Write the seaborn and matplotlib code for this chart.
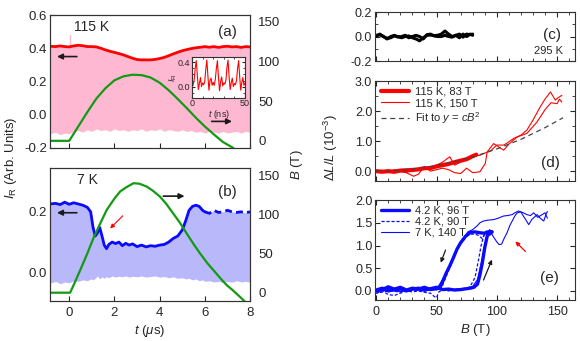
import numpy as np
import pandas as pd
import matplotlib
matplotlib.use("Agg")
import matplotlib.pyplot as plt
from matplotlib.ticker import MultipleLocator
import seaborn as sns

sns.set_theme(style="ticks")
plt.rcParams['font.family'] = ['Liberation Sans', 'DejaVu Sans']
plt.rcParams['mathtext.fontset'] = 'custom'
plt.rcParams['mathtext.rm'] = 'Liberation Sans'
plt.rcParams['mathtext.it'] = 'Liberation Sans:italic'
plt.rcParams['mathtext.bf'] = 'Liberation Sans:bold'

# ---------------- data: panel (a) 115 K ----------------
t_a = [-0.85, -0.6, -0.4, -0.2, 0.0, 0.2, 0.4, 0.6, 0.8, 1.0, 1.2, 1.4, 1.6, 1.8, 2.0,
       2.2, 2.4, 2.6, 2.8, 3.0, 3.2, 3.4, 3.6, 3.8, 4.0, 4.2, 4.4, 4.6, 4.8, 5.0,
       5.2, 5.4, 5.6, 5.8, 6.0, 6.2, 6.4, 6.6, 6.8, 7.0, 7.2, 7.4, 7.6, 7.8, 8.0]
IR_a = [0.412, 0.41, 0.414, 0.41, 0.408, 0.414, 0.418, 0.415, 0.41, 0.41, 0.408, 0.40,
        0.39, 0.382, 0.375, 0.368, 0.36, 0.35, 0.34, 0.332, 0.33, 0.33, 0.33, 0.333,
        0.338, 0.345, 0.355, 0.366, 0.376, 0.385, 0.392, 0.398, 0.403, 0.406, 0.41,
        0.406, 0.41, 0.405, 0.41, 0.412, 0.408, 0.41, 0.405, 0.41, 0.408]
IR_a_low = [-0.115, -0.105, -0.12, -0.11, -0.115, -0.10, -0.095, -0.105, -0.09, -0.10,
            -0.085, -0.095, -0.09, -0.10, -0.085, -0.095, -0.09, -0.10, -0.09, -0.095,
            -0.085, -0.10, -0.09, -0.095, -0.085, -0.10, -0.09, -0.095, -0.10, -0.09,
            -0.10, -0.095, -0.105, -0.10, -0.11, -0.10, -0.105, -0.11, -0.10, -0.11,
            -0.105, -0.10, -0.11, -0.10, -0.105]
glitch_t = [0.05, 0.05]
glitch_I = [0.41, 0.48]
tB_a = [-0.85, 0.0, 0.4, 0.8, 1.2, 1.6, 2.0, 2.4, 2.8, 3.2, 3.6, 4.0, 4.4, 4.8, 5.2,
        5.6, 6.0, 6.4, 6.8, 7.2, 7.35]
B_a = [0, 0, 18, 36, 53, 66, 76, 81, 83, 82.5, 79.5, 73, 63.5, 52.5, 41, 29, 18, 8,
       -1.5, -8, -11]

# inset: reflectivity vs time (ns)
t_ns = list(range(0, 51))
IR_ns = [0.05, 0.02, 0.10, 0.30, 0.43, 0.20, -0.05, 0.05, 0.15, 0.00,
         0.06, 0.03, 0.08, 0.28, 0.44, 0.18, -0.06, 0.10, 0.14, 0.02,
         0.07, 0.02, 0.12, 0.30, 0.43, 0.15, -0.07, 0.08, 0.16, 0.01,
         0.06, 0.04, 0.10, 0.32, 0.44, 0.17, -0.05, 0.06, 0.14, 0.00,
         0.05, 0.03, 0.10, 0.30, 0.43, 0.16, -0.06, 0.07, 0.15, 0.02, 0.06]

# ---------------- data: panel (b) 7 K ----------------
t_b = [-0.85, -0.6, -0.4, -0.2, 0.0, 0.2, 0.4, 0.6, 0.8, 0.95, 1.05, 1.15, 1.25, 1.35,
       1.45, 1.55, 1.65, 1.75, 1.9, 2.05, 2.2, 2.35, 2.5, 2.65, 2.8, 3.0, 3.2, 3.4,
       3.6, 3.8, 4.0, 4.2, 4.4, 4.6, 4.8, 5.0, 5.15, 5.3, 5.45, 5.6, 5.75, 5.9, 6.0]
IR_b = [0.226, 0.228, 0.224, 0.232, 0.225, 0.23, 0.226, 0.222, 0.215, 0.20, 0.15,
        0.12, 0.13, 0.148, 0.12, 0.09, 0.078, 0.092, 0.10, 0.095, 0.10, 0.088, 0.096,
        0.09, 0.094, 0.085, 0.09, 0.084, 0.088, 0.086, 0.09, 0.092, 0.10, 0.112, 0.12,
        0.14, 0.17, 0.205, 0.218, 0.222, 0.218, 0.205, 0.20]
t_b_dash = [6.0, 6.2, 6.4, 6.6, 6.8, 7.0, 7.2, 7.4, 7.6, 7.8, 8.0]
IR_b_dash = [0.20, 0.195, 0.205, 0.198, 0.20, 0.205, 0.20, 0.198, 0.20, 0.197, 0.20]
IR_b_low = [-0.036, -0.03, -0.038, -0.032, -0.035, -0.028, -0.03, -0.025, -0.028, -0.022,
            -0.025, -0.02, -0.012, -0.022, -0.015, -0.02, -0.014, -0.018, -0.012, -0.016,
            -0.013, -0.015, -0.012, -0.016, -0.013, -0.015, -0.012, -0.016, -0.014, -0.012,
            -0.016, -0.014, -0.018, -0.015, -0.02, -0.018, -0.022, -0.02, -0.025, -0.022,
            -0.028, -0.025, -0.03,
            -0.028, -0.032, -0.03, -0.034, -0.03, -0.033, -0.028, -0.032, -0.03, -0.033]
tB_b = [-0.85, 0.04, 0.2, 0.49, 0.8, 1.07, 1.4, 1.66, 2.0, 2.25, 2.5, 2.84, 3.1, 3.43,
        3.7, 4.01, 4.3, 4.6, 4.9, 5.19, 5.5, 5.78, 6.1, 6.37, 6.7, 6.96, 7.2, 7.54, 7.76]
B_b = [0, 0, 10, 29, 50, 69.5, 90, 105.6, 120, 129, 134, 139.6, 139, 135.3, 130, 122.6,
       113, 101, 89, 75.8, 62, 50.3, 38, 29, 18, 9.8, 4, -5, -11]

# ---------------- data: panel (c) 295 K ----------------
Bc_up = [0, 3, 6, 9, 12, 15, 18, 21, 24, 27, 30, 33, 36, 39, 42, 45, 48, 51, 54, 57,
         60, 63, 66, 69, 72, 75, 78, 80]
dLc_up = [0.01, 0.015, 0.0, -0.015, -0.01, 0.005, 0.0, -0.01, 0.0, 0.005, -0.01, -0.02,
          -0.035, -0.01, 0.01, 0.012, 0.008, 0.01, 0.02, 0.045, 0.02, 0.0, 0.01, 0.02,
          -0.005, 0.02, 0.015, 0.02]
dLc_down = [0.0, 0.02, 0.0, -0.02, 0.0, 0.01, -0.005, 0.0, 0.01, -0.01, 0.0, 0.01, 0.0,
            -0.02, 0.015, 0.02, 0.005, 0.0, 0.0, 0.01, 0.0, -0.005, 0.01, -0.01, 0.02,
            0.0, 0.02, 0.01]

# ---------------- data: panel (d) 115 K ----------------
Bd_83 = [0, 5, 10, 15, 20, 25, 30, 35, 40, 45, 50, 55, 60, 65, 70, 75, 80, 83]
dLd_83 = [0.0, -0.02, 0.0, -0.02, 0.02, 0.03, 0.04, 0.06, 0.10, 0.10, 0.16, 0.20, 0.24,
          0.30, 0.35, 0.40, 0.50, 0.55]
Bd_150_up = [0, 5, 10, 15, 20, 25, 30, 35, 40, 45, 50, 55, 61, 65, 70, 75, 80, 86, 90,
             95, 100, 106, 114, 120, 125, 130, 136, 140, 144.5, 148.6, 151, 154]
dLd_150_up = [0.0, 0.03, -0.02, 0.05, 0.0, -0.05, 0.05, 0.10, 0.12, 0.10, 0.20, 0.30,
              0.48, 0.20, 0.30, 0.42, 0.50, 0.53, 0.60, 0.68, 0.87, 0.87, 1.09, 1.20,
              1.37, 1.70, 2.14, 2.40, 2.64, 2.37, 2.45, 2.53]
Bd_150_down = [154, 152, 150, 145, 140, 138.9, 133.4, 125, 117, 110, 105.7, 100, 97.4,
               92, 90.5, 86, 80, 75, 70, 65, 60, 55, 50, 45, 40, 35, 31, 25, 20, 15,
               10, 5, 0]
dLd_150_down = [2.30, 2.40, 2.25, 2.28, 2.05, 1.98, 1.64, 1.26, 1.14, 0.90, 0.70, 0.85,
                0.92, 0.64, 0.26, -0.02, -0.05, 0.10, -0.08, -0.05, 0.05, 0.10, 0.05,
                0.0, 0.15, -0.10, -0.17, -0.05, 0.0, -0.05, 0.02, 0.0, 0.0]
Bd_fit = [0, 20, 40, 60, 80, 100, 120, 140, 155]
dLd_fit = [0.0, 0.03, 0.12, 0.27, 0.47, 0.74, 1.06, 1.45, 1.78]

# ---------------- data: panel (e) low T ----------------
Be_96_up = [0, 5, 10, 15, 20, 25, 30, 35, 40, 45, 50, 55, 60, 65, 70, 75, 78, 81, 84,
            86, 88, 90, 92, 94, 96]
dLe_96_up = [0.02, 0.06, 0.0, 0.03, 0.05, 0.0, 0.04, 0.06, 0.02, 0.05, 0.08, 0.03, 0.04,
             0.02, 0.03, 0.05, 0.06, 0.08, 0.15, 0.35, 0.62, 0.95, 1.20, 1.31, 1.30]
Be_96_down = [96, 94, 92, 90, 86, 82, 78, 74, 70, 67, 64, 61, 58, 55, 53, 50, 45, 40, 35,
              30, 25, 20, 15, 10, 5, 0]
dLe_96_down = [1.30, 1.25, 1.30, 1.27, 1.28, 1.30, 1.29, 1.20, 1.06, 0.92, 0.73, 0.55,
               0.39, 0.20, 0.08, 0.05, 0.03, 0.08, 0.04, 0.06, 0.02, 0.08, 0.04, 0.09,
               0.03, 0.0]
Be_90_up = [0, 5, 10, 15, 20, 25, 30, 35, 40, 45, 48, 50, 52, 55, 60, 65, 70, 75, 78,
            82, 85, 87, 89, 90]
dLe_90_up = [-0.05, 0.0, -0.08, -0.10, -0.05, 0.0, -0.02, 0.0, -0.03, -0.05, -0.12,
             -0.15, -0.02, 0.02, 0.0, 0.03, 0.05, 0.05, 0.10, 0.30, 0.70, 1.00, 1.20, 1.25]
Be_90_down = [90, 88, 85, 82, 78, 75, 72, 69, 66, 63, 60, 57, 55, 53, 51, 49, 45, 40, 30,
              20, 10, 0]
dLe_90_down = [1.25, 1.15, 1.22, 1.25, 1.25, 1.20, 1.10, 1.00, 0.85, 0.65, 0.45, 0.25,
               0.12, 0.05, 0.02, 0.03, 0.02, 0.0, 0.02, -0.02, 0.0, -0.05]
Be_140_up = [0, 10, 20, 30, 40, 50, 60, 70, 75, 80, 84, 87, 90, 92, 94, 97, 100, 102, 104,
             106, 108.5, 111, 113, 115, 117, 120, 122, 124, 126.5, 129, 131, 133.5, 136,
             139, 141, 142]
dLe_140_up = [0.0, 0.05, 0.0, 0.05, 0.02, 0.05, 0.02, 0.05, 0.06, 0.10, 0.25, 0.60, 1.00,
              1.25, 1.35, 1.20, 1.08, 1.02, 1.03, 1.15, 1.28, 1.45, 1.55, 1.65, 1.72, 1.74,
              1.65, 1.57, 1.46, 1.57, 1.62, 1.68, 1.60, 1.54, 1.70, 1.75]
Be_140_down = [142, 140, 137.6, 134, 130.6, 128, 125, 122, 118, 115, 112.7, 109, 105.7,
               101, 97.4, 93, 89, 86, 83.6, 80, 76, 72, 68, 64, 60, 56, 52, 48, 40, 30,
               20, 10, 0]
dLe_140_down = [1.60, 1.72, 1.68, 1.62, 1.72, 1.66, 1.68, 1.72, 1.76, 1.72, 1.68, 1.66,
                1.65, 1.60, 1.57, 1.56, 1.54, 1.50, 1.43, 1.35, 1.30, 1.15, 0.95, 0.72,
                0.50, 0.30, 0.12, 0.04, 0.0, 0.03, -0.02, 0.02, 0.0]

# ---------------- styling ----------------
RED = "#ff0000"
PINK = "#ffb8d2"
BLUE = "#0a0aff"
LAV = "#b8b8fa"
GREEN = "#139a13"
FS = 9.5

fig = plt.figure(figsize=(5.8, 3.41), dpi=100)

def style_ax(ax, fs=FS, minor=False, allsides=False):
    ax.tick_params(direction="in", length=3.5, width=0.8, labelsize=fs, pad=2,
                   top=allsides, right=allsides)
    if minor:
        ax.tick_params(which="minor", direction="in", length=2, width=0.6,
                       top=allsides, right=allsides)
    for s in ax.spines.values():
        s.set_linewidth(0.8)
        s.set_color("#333333")
    ax.grid(False)

def line(ax, x, y, **kw):
    sns.lineplot(x=x, y=y, ax=ax, sort=False, estimator=None, **kw)

def arrow(ax, tail, head, color="k", lw=1.2, ms=8):
    ax.annotate("", xy=head, xytext=tail,
                arrowprops=dict(arrowstyle="-|>", color=color, lw=lw,
                                mutation_scale=ms, shrinkA=0, shrinkB=0))

# ---------------- panel (a) ----------------
axa = fig.add_axes([0.0862, 0.566, 0.345, 0.390])
axa.fill_between(t_a, IR_a_low, IR_a, color=PINK, lw=0)
line(axa, glitch_t, glitch_I, color=PINK, lw=1.0)
line(axa, t_a, IR_a, color=RED, lw=2.0)
axa.set_xlim(-0.85, 8)
axa.set_ylim(-0.2, 0.6)
axa.set_yticks([-0.2, 0.0, 0.2, 0.4, 0.6])
axa.set_yticklabels(["-0.2", "0.0", "0.2", "0.4", "0.6"])
axa.set_xticks([0, 2, 4, 6, 8])
axa.set_xticklabels([])
axa.set_xlabel("")
style_ax(axa)
axa2 = axa.twinx()
line(axa2, tB_a, B_a, color=GREEN, lw=1.6)
axa2.set_ylim(-9, 158)
axa2.set_yticks([0, 50, 100, 150])
axa2.set_ylabel("")
style_ax(axa2)
axa2.tick_params(pad=6)
axa2.set_xlim(-0.85, 8)
axa.text(0.19, 0.53, "115 K", fontsize=10, ha="left", va="center")
axa.text(7.0, 0.50, "(a)", fontsize=11, ha="center", va="center")
arrow(axa, (0.34, 0.35), (-0.54, 0.35))
arrow(axa, (6.3, -0.04), (7.2, -0.04))

# inset
axi = fig.add_axes([0.331, 0.7126, 0.0914, 0.1202])
axi.set_facecolor("white")
line(axi, t_ns, IR_ns, color=RED, lw=0.8)
axi.set_xlim(0, 50)
axi.set_ylim(-0.19, 0.49)
axi.set_xticks([0, 50])
axi.set_yticks([0.0, 0.4])
axi.set_yticklabels(["0.0", "0.4"])
axi.xaxis.set_minor_locator(MultipleLocator(10))
axi.yaxis.set_minor_locator(MultipleLocator(0.1))
style_ax(axi, fs=6.5, minor=True, allsides=True)
axi.tick_params(length=2, pad=1)
axi.tick_params(which="minor", length=1.2)
axi.set_xlabel("$t$ (ns)", fontsize=6.5, labelpad=0)
axi.set_ylabel("$I_{\\rm R}$", fontsize=6.5, labelpad=-1)

# ---------------- panel (b) ----------------
axb = fig.add_axes([0.0862, 0.1173, 0.345, 0.390])
t_b_all = t_b + t_b_dash[1:]
IR_b_all = IR_b + IR_b_dash[1:]
axb.fill_between(t_b_all, IR_b_low, IR_b_all, color=LAV, lw=0)
line(axb, t_b, IR_b, color=BLUE, lw=2.0)
line(axb, t_b_dash, IR_b_dash, color=BLUE, lw=2.0, dashes=(2.5, 1.5))
axb.set_xlim(-0.85, 8)
axb.set_ylim(-0.095, 0.345)
axb.set_yticks([0.0, 0.2])
axb.set_yticklabels(["0.0", "0.2"])
axb.set_xticks([0, 2, 4, 6, 8])
style_ax(axb)
axb.tick_params(axis="x", pad=4)
axb.set_xlabel("$t$ ($\\mu$s)", fontsize=FS, labelpad=3)
axb2 = axb.twinx()
line(axb2, tB_b, B_b, color=GREEN, lw=1.6)
axb2.set_ylim(-10.6, 159)
axb2.set_yticks([0, 50, 100, 150])
axb2.set_ylabel("")
style_ax(axb2)
axb2.tick_params(pad=6)
axb.text(0.34, 0.305, "7 K", fontsize=10, ha="left", va="center")
axb.text(7.0, 0.266, "(b)", fontsize=11, ha="center", va="center")
arrow(axb, (0.34, 0.197), (-0.54, 0.197))
arrow(axb, (4.16, 0.252), (5.1, 0.252))
arrow(axb, (2.37, 0.187), (1.81, 0.145), color=RED, lw=0.8, ms=6)

fig.text(0.019, 0.537, "$I_{\\rm R}$ (Arb. Units)", rotation=90, fontsize=FS,
         ha="center", va="center")
fig.text(0.512, 0.516, "$B$ (T)", rotation=90, fontsize=FS, ha="center", va="center")

# ---------------- panel (c) ----------------
XL = (-1, 165)
axc = fig.add_axes([0.6466, 0.821, 0.345, 0.1437])
line(axc, Bc_up, dLc_up, color="black", lw=2.2)
line(axc, Bc_up, dLc_down, color="black", lw=2.2)
axc.set_xlim(*XL)
axc.set_ylim(-0.2, 0.2)
axc.set_yticks([-0.2, 0.0, 0.2])
axc.set_yticklabels(["-0.2", "0.0", "0.2"])
axc.set_xticks([0, 50, 100, 150])
axc.set_xticklabels([])
axc.xaxis.set_minor_locator(MultipleLocator(10))
axc.yaxis.set_minor_locator(MultipleLocator(0.1))
style_ax(axc, fs=9, minor=True, allsides=True)
axc.text(146, 0.013, "(c)", fontsize=11, ha="center", va="center")
axc.text(142.5, -0.12, "295 K", fontsize=8, ha="center", va="center")

# ---------------- panel (d) ----------------
axd = fig.add_axes([0.6466, 0.469, 0.345, 0.293])
line(axd, Bd_150_up, dLd_150_up, color=RED, lw=0.8, label="115 K, 150 T")
line(axd, Bd_150_down, dLd_150_down, color=RED, lw=0.8)
line(axd, Bd_83, dLd_83, color=RED, lw=3.0, label="115 K, 83 T")
line(axd, Bd_fit, dLd_fit, color="#444444", lw=0.9, dashes=(4, 3),
     label="Fit to $y$ = $cB^{2}$")
axd.set_xlim(*XL)
axd.set_ylim(-0.33, 3.0)
axd.set_yticks([0, 1, 2, 3])
axd.set_yticklabels(["0.0", "1.0", "2.0", "3.0"])
axd.set_xticks([0, 50, 100, 150])
axd.set_xticklabels([])
axd.xaxis.set_minor_locator(MultipleLocator(10))
axd.yaxis.set_minor_locator(MultipleLocator(0.5))
style_ax(axd, fs=9, minor=True, allsides=True)
h, l = axd.get_legend_handles_labels()
order = [l.index("115 K, 83 T"), l.index("115 K, 150 T"), l.index("Fit to $y$ = $cB^{2}$")]
axd.legend([h[i] for i in order], [l[i] for i in order], loc="upper left",
           frameon=False, fontsize=8, handlelength=2.6, handletextpad=0.5,
           labelspacing=0.15, borderaxespad=0.3, borderpad=0.2)
axd.text(144.5, 0.26, "(d)", fontsize=11, ha="center", va="center")
fig.text(0.571, 0.566, "$\\Delta L/L$ ($10^{-3}$)", rotation=90, fontsize=FS,
         ha="center", va="center")

# ---------------- panel (e) ----------------
axe = fig.add_axes([0.6466, 0.1202, 0.345, 0.293])
line(axe, Be_96_up, dLe_96_up, color=BLUE, lw=2.4, label="4.2 K, 96 T")
line(axe, Be_96_down, dLe_96_down, color=BLUE, lw=2.4)
line(axe, Be_90_up, dLe_90_up, color=BLUE, lw=0.9, dashes=(2.5, 1.5), label="4.2 K, 90 T")
line(axe, Be_90_down, dLe_90_down, color=BLUE, lw=0.9, dashes=(2.5, 1.5))
line(axe, Be_140_up, dLe_140_up, color=BLUE, lw=0.8, label="7 K, 140 T")
line(axe, Be_140_down, dLe_140_down, color=BLUE, lw=0.8)
axe.set_xlim(*XL)
axe.set_ylim(-0.2, 2.0)
axe.set_yticks([0.0, 0.5, 1.0, 1.5, 2.0])
axe.set_yticklabels(["0.0", "0.5", "1.0", "1.5", "2.0"])
axe.set_xticks([0, 50, 100, 150])
axe.xaxis.set_minor_locator(MultipleLocator(10))
style_ax(axe, fs=9, minor=True, allsides=True)
axe.tick_params(axis="x", pad=4)
axe.set_xlabel("$B$ (T)", fontsize=FS, labelpad=3)
axe.legend(loc="upper left", frameon=False, fontsize=8, handlelength=2.6,
           handletextpad=0.5, labelspacing=0.1, borderaxespad=0.3, borderpad=0.2)
axe.text(143.5, 0.28, "(e)", fontsize=11, ha="center", va="center")
arrow(axe, (57.5, 0.9), (53.5, 0.62), lw=0.9, ms=6)
arrow(axe, (89, 0.24), (96, 0.69), lw=0.9, ms=6)
arrow(axe, (123.7, 0.87), (115.4, 1.09), color=RED, lw=0.9, ms=6)

for ax in [axa, axb, axc, axd, axe]:
    ax.set_ylabel("")

fig.savefig("out.png", dpi=100)
